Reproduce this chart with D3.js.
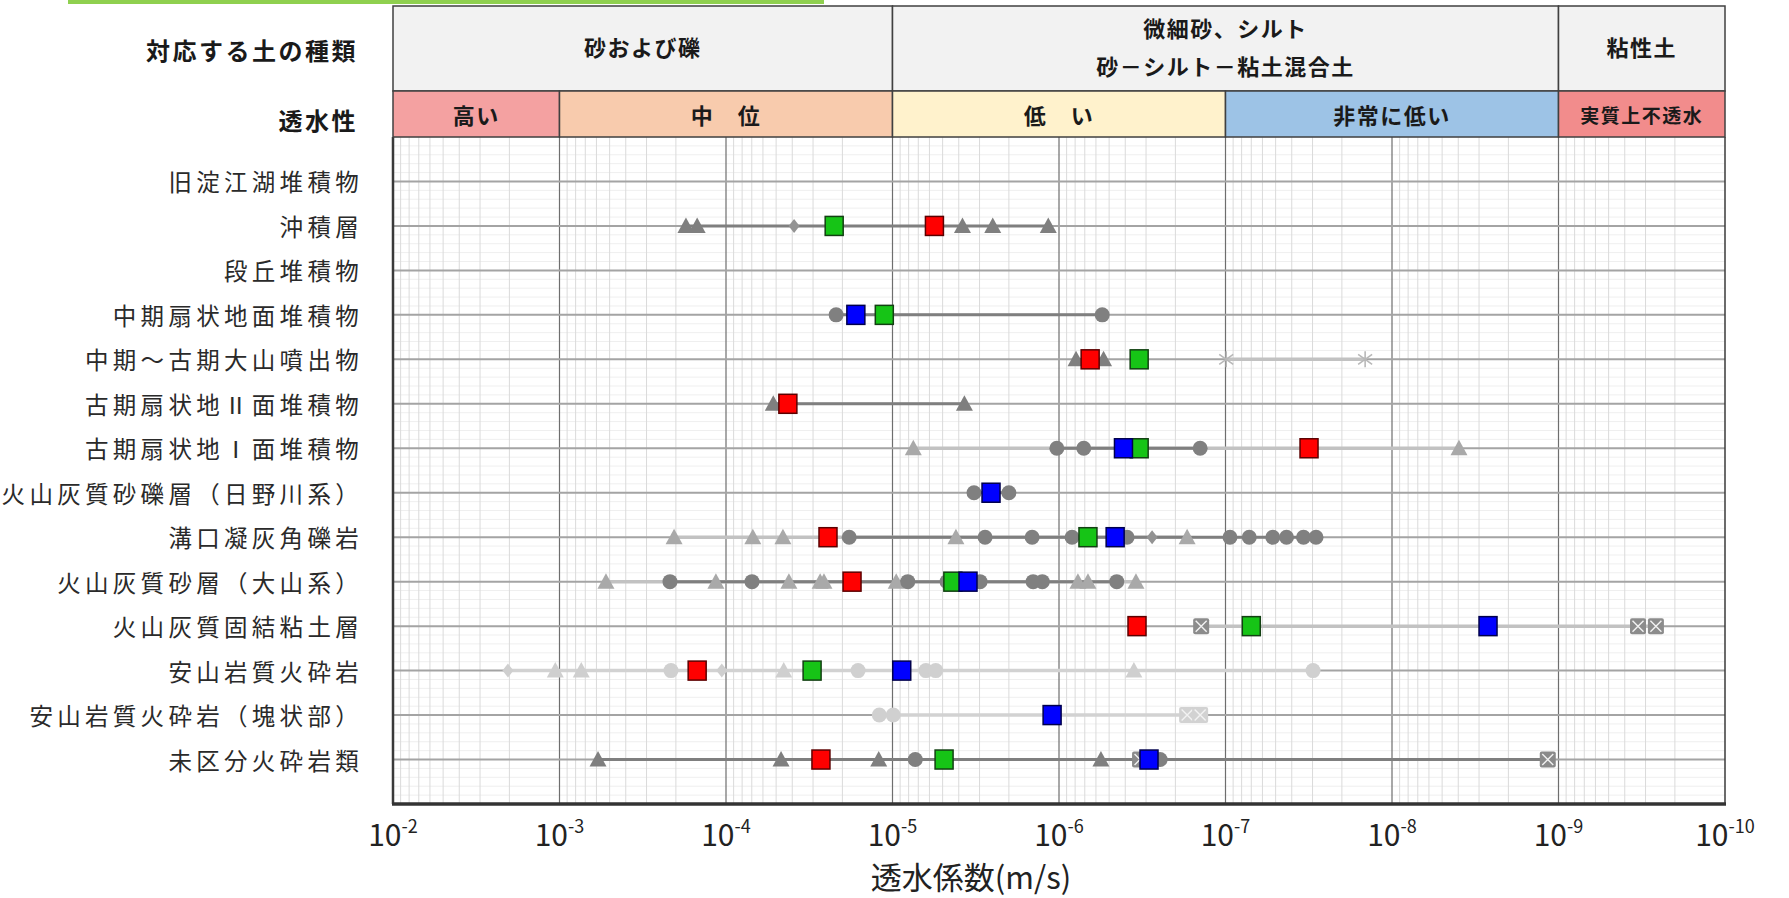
<!DOCTYPE html>
<html lang="ja">
<head>
<meta charset="UTF-8">
<title>透水係数</title>
<script src="https://cdn.jsdelivr.net/npm/d3@7/dist/d3.min.js"></script>
<style>
  body { margin: 0; background: #fff; }
  svg text { font-family: "Noto Sans CJK JP", sans-serif; }
</style>
</head>
<body>
<svg id="chart" width="1789" height="898"></svg>
<script>
// strata, top to bottom
const strata = [
  "旧淀江湖堆積物", "沖積層", "段丘堆積物", "中期扇状地面堆積物", "中期～古期大山噴出物",
  "古期扇状地Ⅱ面堆積物", "古期扇状地Ⅰ面堆積物", "火山灰質砂礫層（日野川系）", "溝口凝灰角礫岩",
  "火山灰質砂層（大山系）", "火山灰質固結粘土層", "安山岩質火砕岩", "安山岩質火砕岩（塊状部）", "未区分火砕岩類"
];

// header bands along the axis
const soilTypes = [
  { label: ["砂および礫"], from: 1e-2, to: 1e-5 },
  { label: ["微細砂、シルト", "砂－シルト－粘土混合土"], from: 1e-5, to: 1e-9 },
  { label: ["粘性土"], from: 1e-9, to: 1e-10 }
];
const permeability = [
  { label: "高い", from: 1e-2, to: 1e-3 },
  { label: "中　位", from: 1e-3, to: 1e-5 },
  { label: "低　い", from: 1e-5, to: 1e-7 },
  { label: "非常に低い", from: 1e-7, to: 1e-9 },
  { label: "実質上不透水", from: 1e-9, to: 1e-10 }
];

const decades = [1e-2, 1e-3, 1e-4, 1e-5, 1e-6, 1e-7, 1e-8, 1e-9, 1e-10];
const decadeExp = ["-2", "-3", "-4", "-5", "-6", "-7", "-8", "-9", "-10"];

// representative values (one per stratum, null = none)
const redSquare   = [null, 5.6e-6, null, null, 6.5e-7, 4.25e-5, 3.15e-8, null, 2.44e-5, 1.75e-5, 3.4e-7, 1.49e-4, null, 2.69e-5];
const greenSquare = [null, 2.24e-5, null, 1.12e-5, 3.3e-7, null, 3.3e-7, null, 6.7e-7, 4.34e-6, 7.0e-8, 3.04e-5, null, 4.9e-6];
const blueSquare  = [null, null, null, 1.66e-5, null, null, 4.1e-7, 2.56e-6, 4.6e-7, 3.52e-6, 2.65e-9, 8.8e-6, 1.10e-6, 2.88e-7];

// individual test results, one list per stratum
const triDark = [[], [1.74e-4, 1.49e-4, 3.8e-6, 2.5e-6, 1.16e-6], [], [], [7.9e-7, 5.4e-7], [5.2e-5, 3.7e-6],
  [], [], [], [], [], [], [], [5.87e-4, 4.67e-5, 1.21e-5, 5.6e-7]];
const triLight = [[], [], [], [], [], [], [7.5e-6, 3.96e-9], [],
  [2.05e-4, 6.9e-5, 4.55e-5, 4.16e-6, 1.70e-7],
  [5.26e-4, 1.15e-4, 4.19e-5, 2.72e-5, 2.58e-5, 9.5e-6, 7.7e-7, 6.7e-7, 3.45e-7], [], [], [], []];
const circleDark = [[], [], [], [2.18e-5, 5.5e-7], [], [], [1.03e-6, 7.1e-7, 1.42e-7], [3.24e-6, 2.0e-6],
  [1.82e-5, 2.78e-6, 1.45e-6, 8.35e-7, 3.9e-7, 9.4e-8, 7.2e-8, 5.2e-8, 4.3e-8, 3.4e-8, 2.86e-8],
  [2.17e-4, 6.98e-5, 8.1e-6, 4.7e-6, 2.98e-6, 1.43e-6, 1.26e-6, 4.5e-7], [], [], [], [7.3e-6, 2.47e-7]];
const diamondMid = [[], [3.9e-5], [], [], [], [], [], [], [2.76e-7], [], [], [], [], []];
const boxDark = [[], [], [], [], [], [], [], [], [], [], [], [], [], [3.26e-7, 1.16e-9]];
const boxMid = [[], [], [], [], [], [], [], [], [], [], [1.40e-7, 3.33e-10, 2.6e-10], [], [], []];
const starLight = [[], [], [], [], [9.9e-8, 1.45e-8], [], [], [], [], [], [], [], [], []];
const triPale = [[], [], [], [], [], [], [], [], [], [], [], [1.06e-3, 7.4e-4, 4.5e-5, 3.55e-7], [], []];
const circlePale = [[], [], [], [], [], [], [], [], [], [], [], [2.14e-4, 1.61e-5, 6.3e-6, 5.5e-6, 2.98e-8], [1.2e-5, 9.9e-6], []];
const diamondPale = [[], [], [], [], [], [], [], [], [], [], [], [2.04e-3, 1.06e-4], [], []];
const boxPale = [[], [], [], [], [], [], [], [], [], [], [], [], [1.70e-7, 1.42e-7], []];

// styles kept apart from the values
const greySeries = [
  { data: triLight,    shape: "tri",     fill: "#a9a9a9", line: "light" },
  { data: triPale,     shape: "tri",     fill: "#cfcfcf", line: "pale" },
  { data: circlePale,  shape: "circle",  fill: "#d0d0d0", line: "pale" },
  { data: diamondPale, shape: "diamond", fill: "#cfcfcf", line: "pale" },
  { data: boxPale,     shape: "box",     fill: "#d2d2d2", line: "pale" },
  { data: starLight,   shape: "star",    fill: "#b8b8b8", line: "light" },
  { data: boxMid,      shape: "box",     fill: "#8c8c8c", line: "light" },
  { data: triDark,     shape: "tri",     fill: "#7f7f7f", line: "dark" },
  { data: circleDark,  shape: "circle",  fill: "#808080", line: "dark" },
  { data: diamondMid,  shape: "diamond", fill: "#939393", line: "dark" },
  { data: boxDark,     shape: "box",     fill: "#8a8a8a", line: "dark" }
];
const lineTones = {
  pale:  { color: "#d2d2d2", width: 3.5 },
  light: { color: "#c2c2c2", width: 3.5 },
  dark:  { color: "#7f7f7f", width: 3 }
};
const squares = [
  { data: redSquare,   fill: "#ff0000", stroke: "#5c0000" },
  { data: greenSquare, fill: "#16c416", stroke: "#124012" },
  { data: blueSquare,  fill: "#0000ff", stroke: "#00004d" }
];
const bandColors = ["#f4a1a1", "#f8cbad", "#fff2cc", "#9dc3e6", "#f28c8c"];

const svg = d3.select("#chart");
const plotL = 393, plotR = 1725, plotT = 137, plotB = 804, headTop = 6, headMid = 91;

const x = d3.scaleLog().domain([1e-2, 1e-10]).range([plotL, plotR]);
const n = strata.length;
const y = d3.scaleLinear().domain([0, n + 1]).range([plotB, plotT]);
const rowY = i => y(n - i);

svg.append("rect").attr("width", 1789).attr("height", 898).attr("fill", "#fff");
// green strip at the very top
svg.append("rect").attr("x", 68).attr("y", 0).attr("width", 756).attr("height", 4).attr("fill", "#8fd04f");

// minor grid
const grid = svg.append("g");
grid.selectAll(".hminor").data(d3.range(0, n + 1.001, 0.2)).enter().append("line")
  .attr("x1", plotL).attr("x2", plotR).attr("y1", d => y(d)).attr("y2", d => y(d))
  .attr("stroke", "#efefef").attr("stroke-width", 1);
const minors = [];
decades.slice(1).forEach(d => d3.range(2, 10).forEach(k => minors.push(k * d)));
grid.selectAll(".vminor").data(minors).enter().append("line")
  .attr("x1", d => x(d)).attr("x2", d => x(d)).attr("y1", plotT).attr("y2", plotB)
  .attr("stroke", "#dadada").attr("stroke-width", 1);
grid.selectAll(".vmajor").data(decades.slice(1, -1)).enter().append("line")
  .attr("x1", d => x(d)).attr("x2", d => x(d)).attr("y1", plotT).attr("y2", plotB)
  .attr("stroke", "#6e6e6e").attr("stroke-width", 1.2);
grid.selectAll(".hmajor").data(d3.range(1, n + 1)).enter().append("line")
  .attr("x1", plotL).attr("x2", plotR).attr("y1", d => y(d)).attr("y2", d => y(d))
  .attr("stroke", "#a4a4a4").attr("stroke-width", 2);

// range lines per stratum and tone
const lines = svg.append("g");
["pale", "light", "dark"].forEach(tone => {
  strata.forEach((s, i) => {
    const vals = greySeries.filter(g => g.line === tone).flatMap(g => g.data[i]);
    if (vals.length < 2) return;
    lines.append("line")
      .attr("x1", x(d3.max(vals))).attr("x2", x(d3.min(vals)))
      .attr("y1", rowY(i)).attr("y2", rowY(i))
      .attr("stroke", lineTones[tone].color).attr("stroke-width", lineTones[tone].width);
  });
});

// grey markers
const marks = svg.append("g");
function drawShape(shape, cx, cy, fill) {
  if (shape === "circle") {
    marks.append("circle").attr("cx", cx).attr("cy", cy).attr("r", 7.5).attr("fill", fill);
  } else if (shape === "tri") {
    marks.append("path").attr("d", `M${cx},${cy - 8.5}L${cx + 8.5},${cy + 7}L${cx - 8.5},${cy + 7}Z`).attr("fill", fill);
  } else if (shape === "diamond") {
    marks.append("path").attr("d", `M${cx},${cy - 7}L${cx + 5.5},${cy}L${cx},${cy + 7}L${cx - 5.5},${cy}Z`).attr("fill", fill);
  } else if (shape === "box") {
    marks.append("rect").attr("x", cx - 8).attr("y", cy - 8).attr("width", 16).attr("height", 16)
      .attr("rx", 2).attr("fill", fill);
    marks.append("path").attr("d", `M${cx - 5.5},${cy - 5.5}L${cx + 5.5},${cy + 5.5}M${cx + 5.5},${cy - 5.5}L${cx - 5.5},${cy + 5.5}`)
      .attr("stroke", "#f2f2f2").attr("stroke-width", 1.4);
  } else if (shape === "star") {
    marks.append("path")
      .attr("d", `M${cx},${cy - 8}L${cx},${cy + 8}M${cx - 7},${cy - 5}L${cx + 7},${cy + 5}M${cx - 7},${cy + 5}L${cx + 7},${cy - 5}`)
      .attr("stroke", fill).attr("stroke-width", 1.6);
  }
}
greySeries.forEach(g => {
  g.data.forEach((vals, i) => vals.forEach(v => drawShape(g.shape, x(v), rowY(i), g.fill)));
});

// representative squares
squares.forEach(sq => {
  const pts = sq.data.map((v, i) => ({ v, i })).filter(d => d.v !== null);
  svg.append("g").selectAll("rect").data(pts).enter().append("rect")
    .attr("x", d => x(d.v) - 9).attr("y", d => rowY(d.i) - 9.5)
    .attr("width", 18).attr("height", 19)
    .attr("fill", sq.fill).attr("stroke", sq.stroke).attr("stroke-width", 1.5);
});

// plot frame
svg.append("line").attr("x1", plotL).attr("x2", plotL).attr("y1", plotT).attr("y2", plotB).attr("stroke", "#3a3a3a").attr("stroke-width", 2.5);
svg.append("line").attr("x1", plotR).attr("x2", plotR).attr("y1", plotT).attr("y2", plotB).attr("stroke", "#3a3a3a").attr("stroke-width", 1.5);
svg.append("line").attr("x1", plotL - 1).attr("x2", plotR + 1).attr("y1", plotB).attr("y2", plotB).attr("stroke", "#333").attr("stroke-width", 3.5);

// header rows
const head = svg.append("g");
head.selectAll(".soil").data(soilTypes).enter().append("rect")
  .attr("x", d => x(d.from)).attr("y", headTop).attr("width", d => x(d.to) - x(d.from)).attr("height", headMid - headTop)
  .attr("fill", "#f2f2f2").attr("stroke", "#404040").attr("stroke-width", 1.5);
soilTypes.forEach(d => {
  const cx = (x(d.from) + x(d.to)) / 2;
  const mid = (headTop + headMid) / 2 - 3;
  d.label.forEach((t, k) => {
    head.append("text").attr("x", cx).attr("y", mid + (k - (d.label.length - 1) / 2) * 38)
      .attr("text-anchor", "middle").attr("dominant-baseline", "central")
      .attr("font-size", 22).attr("font-weight", "bold").attr("letter-spacing", 1.5).attr("fill", "#1a1a1a").text(t);
  });
});
head.selectAll(".perm").data(permeability).enter().append("rect")
  .attr("x", d => x(d.from)).attr("y", headMid).attr("width", d => x(d.to) - x(d.from)).attr("height", plotT - headMid)
  .attr("fill", (d, i) => bandColors[i]).attr("stroke", "#404040").attr("stroke-width", 1.5);
head.selectAll(".permText").data(permeability).enter().append("text")
  .attr("x", d => (x(d.from) + x(d.to)) / 2).attr("y", (headMid + plotT) / 2)
  .attr("text-anchor", "middle").attr("dominant-baseline", "central")
  .attr("font-size", d => d.label.length > 5 ? 19 : 22).attr("font-weight", "bold").attr("letter-spacing", 1.5)
  .attr("fill", "#1a1a1a").text(d => d.label);

// left header labels
svg.append("text").attr("x", 358).attr("y", (headTop + headMid) / 2 + 1).attr("text-anchor", "end")
  .attr("dominant-baseline", "central").attr("font-size", 24).attr("font-weight", "bold").attr("letter-spacing", 2.5)
  .attr("fill", "#1a1a1a").text("対応する土の種類");
svg.append("text").attr("x", 358).attr("y", (headMid + plotT) / 2 + 5).attr("text-anchor", "end")
  .attr("dominant-baseline", "central").attr("font-size", 24).attr("font-weight", "bold").attr("letter-spacing", 2.5)
  .attr("fill", "#1a1a1a").text("透水性");

// strata labels
svg.append("g").selectAll("text").data(strata).enter().append("text")
  .attr("x", 363).attr("y", (d, i) => rowY(i)).attr("text-anchor", "end").attr("dominant-baseline", "central")
  .attr("font-size", 23.5).attr("letter-spacing", 4.3).attr("fill", "#2a2a2a").text(d => d);

// x tick labels
const ticks = svg.append("g").selectAll("text").data(decades).enter().append("text")
  .attr("x", d => x(d)).attr("y", plotB + 42).attr("text-anchor", "middle")
  .attr("font-family", "'Liberation Sans Narrow', 'Liberation Sans', sans-serif").attr("fill", "#222");
ticks.append("tspan").attr("font-size", 30).text("10");
ticks.append("tspan").attr("font-size", 18).attr("dy", -13).text((d, i) => decadeExp[i]);

// axis title
svg.append("text").attr("x", 971).attr("y", 889).attr("text-anchor", "middle")
  .attr("font-size", 31).attr("fill", "#222").text("透水係数(m/s)");
</script>
</body>
</html>
